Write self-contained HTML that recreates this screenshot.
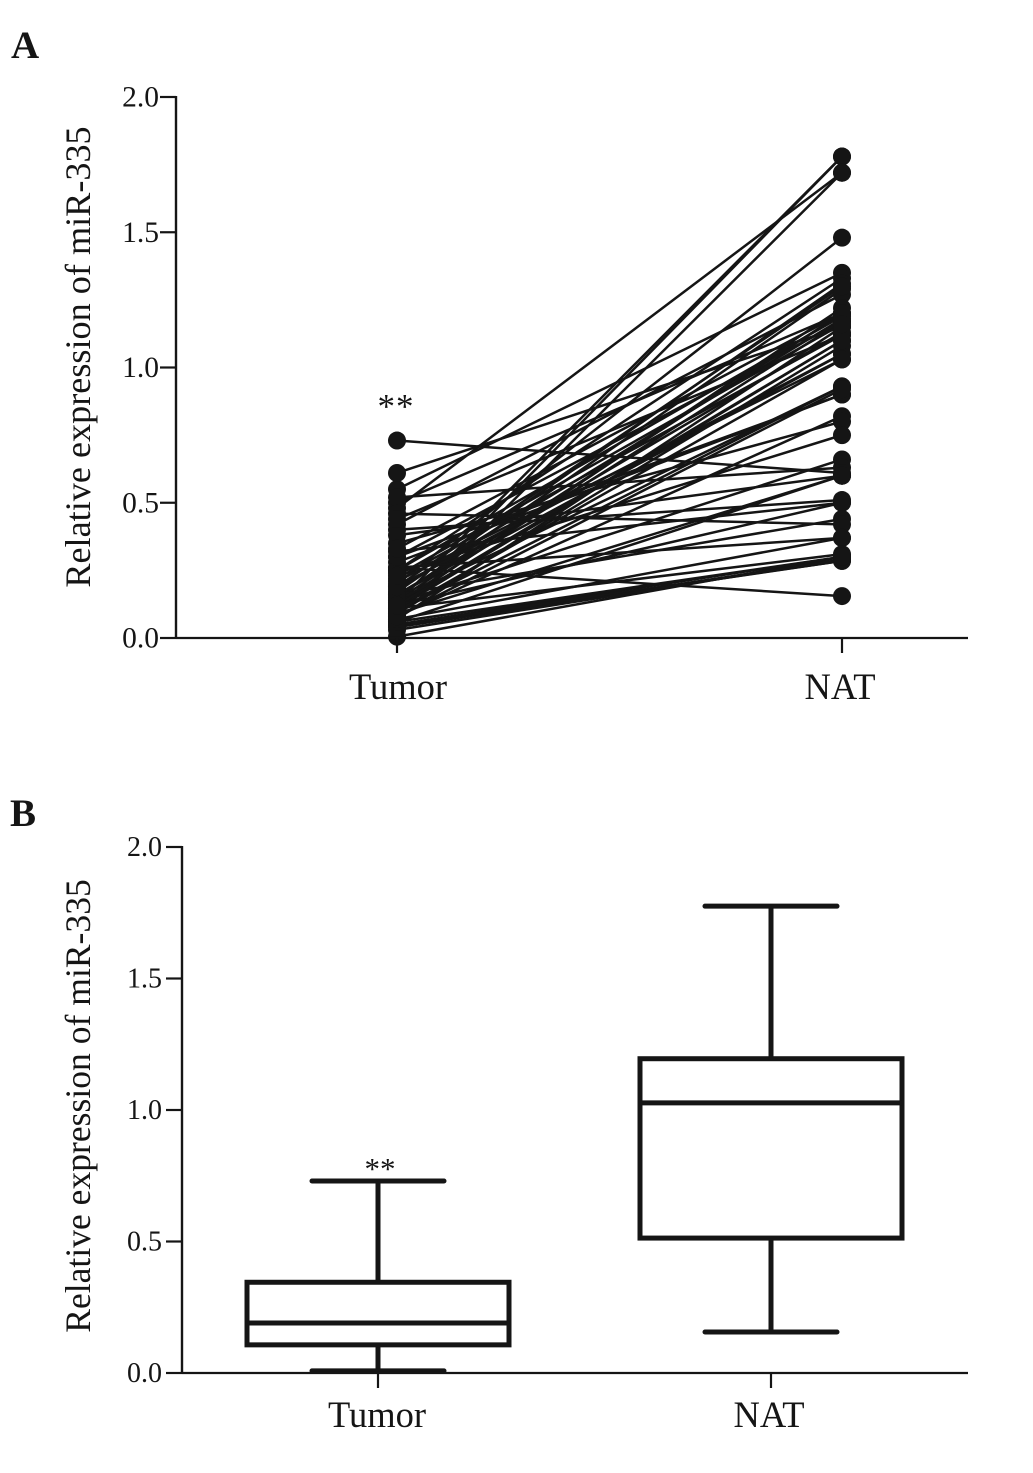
<!DOCTYPE html>
<html lang="en">
<head>
<meta charset="utf-8">
<title>miR-335 expression</title>
<style>
html,body{margin:0;padding:0;background:#fff;}
svg{display:block;}
text{font-family:"Liberation Serif",serif;fill:#151515;}
</style>
</head>
<body>
<svg id="fig" width="1033" height="1473" viewBox="0 0 1033 1473" xmlns="http://www.w3.org/2000/svg">
<rect width="1033" height="1473" fill="#fff"/>
<text x="11" y="58" font-size="39" font-weight="bold">A</text>
<text x="10" y="826" font-size="39" font-weight="bold">B</text>
<text transform="translate(90,357) rotate(-90)" text-anchor="middle" font-size="36.2">Relative expression of miR-335</text>
<text transform="translate(90,1106) rotate(-90)" text-anchor="middle" font-size="35.6">Relative expression of miR-335</text>
<text x="396" y="418" text-anchor="middle" font-size="35" letter-spacing="1">**</text>
<text x="380" y="1179" text-anchor="middle" font-size="31">**</text>
<g id="chartA"></g>
<g id="chartB"></g>
</svg>
<script>
const groups = ["Tumor", "NAT"];
const yTicks = [0, 0.5, 1, 1.5, 2];
const yTickLabels = ["0.0", "0.5", "1.0", "1.5", "2.0"];
const tumorValues = [0.10,0.13,0.48,0.08,0.20,0.55,0.25,0.17,0.15,0.42,0.12,0.50,0.14,0.18,0.13,0.61,0.16,0.22,0.11,0.09,0.19,0.21,0.10,0.28,0.08,0.35,0.24,0.13,0.52,0.73,0.06,0.09,0.40,0.32,0.12,0.16,0.46,0.07,0.26,0.11,0.05,0.04,0.045,0.05,0.26,0.005,0.38,0.30,0.44,0.03,0.06,0.07,0.25,0.16,0.30,0.10,0.14,0.08,0.33,0.12,0.19,0.23];
const natValues = [1.78,1.78,1.72,1.72,1.48,1.35,1.33,1.31,1.29,1.27,1.22,1.20,1.20,1.18,1.17,1.15,1.13,1.12,1.10,1.08,1.05,1.03,0.93,0.90,0.82,0.80,0.75,0.66,0.63,0.61,0.60,0.60,0.51,0.50,0.50,0.44,0.42,0.37,0.37,0.31,0.30,0.29,0.285,0.285,0.155,0.30,0.60,0.90,1.12,0.29,0.30,1.15,1.19,1.05,1.17,1.03,0.93,0.92,1.20,1.10,1.30,1.16];
const boxTumor = {min:0.008, q1:0.107, median:0.19, q3:0.345, max:0.73};
const boxNat = {min:0.156, q1:0.513, median:1.027, q3:1.195, max:1.775};

const NS = "http://www.w3.org/2000/svg";
const ink = "#151515";
function yA(v){ return 638 - v * 270.5; }
function xA(i){ return 397 + i * 445; }
function yB(v){ return 1373 - v * 263; }
function xB(i){ return 378 + i * 393; }

function shape(parent, tag, props){
  const el = document.createElementNS(NS, tag);
  for (const k in props) el.setAttribute(k, props[k]);
  parent.appendChild(el);
  return el;
}
function rule(parent, x1, y1, x2, y2, w){
  return shape(parent, "line", {x1:x1, y1:y1, x2:x2, y2:y2, stroke:ink, "stroke-width":w});
}

function drawAxes(root, yFn, xFn, axisX, tickLeft, xEnd, labelX, labelSize, catSize, catY, catNudge){
  const y0 = yFn(0);
  const yAxis = rule(root, axisX, yFn(2) - 1, axisX, y0 + 1, 2.4);
  
  
  const xAxis = rule(root, axisX, y0, xEnd, y0, 2.2);
  
  
  yTicks.forEach(function(t, i){
    const tick = rule(root, tickLeft, yFn(t), axisX, yFn(t), 2.2);
    
    
    const label = shape(root, "text", {x:labelX, y:yFn(t) + labelSize * 0.33, "text-anchor":"end", "font-size":labelSize});
    label.textContent = yTickLabels[i];
    
    
  });
  groups.forEach(function(g, i){
    const tick = rule(root, xFn(i), y0, xFn(i), y0 + 15, 2.2);
    
    
    const label = shape(root, "text", {x:xFn(i) + catNudge[i], y:catY, "text-anchor":"middle", "font-size":catSize});
    label.textContent = g;
    
    
  });
}

function drawPaired(){
  const root = document.getElementById("chartA");
  tumorValues.forEach(function(t, i){
    const l = rule(root, xA(0), yA(t), xA(1), yA(natValues[i]), 2.5);
    
    
  });
  tumorValues.forEach(function(t){
    const c = shape(root, "circle", {cx:xA(0), cy:yA(t), r:9, fill:ink});
    
    
  });
  natValues.forEach(function(n){
    const c = shape(root, "circle", {cx:xA(1), cy:yA(n), r:9, fill:ink});
    
    
  });
  drawAxes(root, yA, xA, 176, 160, 968, 159, 29.5, 36.5, 699, [1, -2]);
}

function drawBox(box, i, root){
  const cx = xB(i);
  const g = shape(root, "g", {stroke:ink, "stroke-width":5, fill:"none"});
  
  
  rule(g, cx, yB(box.max), cx, yB(box.q3), 5);
  rule(g, cx, yB(box.q1), cx, yB(box.min), 5);
  const capTop = rule(g, cx - 66, yB(box.max), cx + 66, yB(box.max), 5);
  capTop.setAttribute("stroke-linecap", "round");
  const capBot = rule(g, cx - 66, yB(box.min), cx + 66, yB(box.min), 5);
  capBot.setAttribute("stroke-linecap", "round");
  shape(g, "rect", {x:cx - 131, y:yB(box.q3), width:262, height:yB(box.q1) - yB(box.q3), fill:"#fff"});
  rule(g, cx - 131, yB(box.median), cx + 131, yB(box.median), 5);
}

function drawBoxes(){
  const root = document.getElementById("chartB");
  drawBox(boxTumor, 0, root);
  drawBox(boxNat, 1, root);
  drawAxes(root, yB, xB, 182, 166, 968, 162, 28, 36.5, 1427, [-1, -2]);
}

drawPaired();
drawBoxes();
</script>
</body>
</html>
